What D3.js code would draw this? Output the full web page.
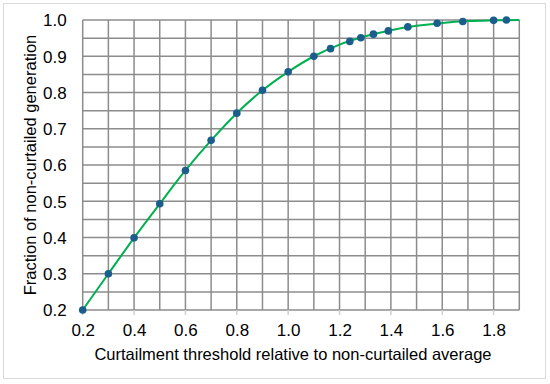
<!DOCTYPE html>
<html>
<head>
<meta charset="utf-8">
<script src="https://cdn.jsdelivr.net/npm/d3@7"></script>
<style>
  body { margin: 0; background: #fff; }
  svg { display: block; font-family: "Liberation Sans", Arial, sans-serif; }
</style>
</head>
<body>
<svg id="chart" width="550" height="384"></svg>
<script>
// threshold (x) vs fraction of non-curtailed generation (y)
var thresholds = [0.2, 0.3, 0.4, 0.5, 0.6, 0.7, 0.8, 0.9, 1.0, 1.1, 1.165, 1.24, 1.283, 1.332, 1.39, 1.466, 1.58, 1.68, 1.8, 1.85];
var fractions  = [0.200, 0.300, 0.399, 0.493, 0.585, 0.668, 0.743, 0.806, 0.857, 0.900, 0.921, 0.941, 0.951, 0.961, 0.970, 0.981, 0.991, 0.996, 0.999, 1.000];
// fitted line runs on to the right edge
var lineX = [0.2, 0.3, 0.4, 0.5, 0.6, 0.7, 0.8, 0.9, 1.0, 1.1, 1.2, 1.3, 1.4, 1.5, 1.6, 1.7, 1.8, 1.9];
var lineY = [0.200, 0.300, 0.399, 0.493, 0.585, 0.668, 0.743, 0.806, 0.857, 0.900, 0.932, 0.955, 0.972, 0.984, 0.992, 0.997, 0.999, 1.000];
var xTickLabels = [0.2, 0.4, 0.6, 0.8, 1.0, 1.2, 1.4, 1.6, 1.8];
var yTickLabels = [0.2, 0.3, 0.4, 0.5, 0.6, 0.7, 0.8, 0.9, 1.0];

(function(){
var svg = d3.select('#chart');
var mLeft = 82.7, mRight = 519.3, mTop = 20, mBottom = 310;
var fontSize = '17px';

var x = d3.scaleLinear().domain([0.2, 1.9]).range([mLeft, mRight]);
var y = d3.scaleLinear().domain([0.2, 1.0]).range([mBottom, mTop]);

// outer frame
svg.append('rect')
   .attr('x', 3.5).attr('y', 3.5)
   .attr('width', 542).attr('height', 375)
   .attr('fill', '#fff')
   .attr('stroke', '#d9d9d9')
   .attr('stroke-width', 1);

var grid = svg.append('g');
var gridColor = '#8c8c8c';

// vertical lines every 0.1
grid.selectAll('line.v')
    .data(d3.range(2, 20).map(function(d){ return d / 10; }))
    .enter().append('line')
    .attr('class', 'v')
    .attr('x1', function(d){ return x(d); })
    .attr('x2', function(d){ return x(d); })
    .attr('y1', mTop).attr('y2', mBottom)
    .attr('stroke', gridColor).attr('stroke-width', 1.5);

// horizontal lines every 0.05
grid.selectAll('line.h')
    .data(d3.range(4, 21).map(function(d){ return d / 20; }))
    .enter().append('line')
    .attr('class', 'h')
    .attr('y1', function(d){ return y(d); })
    .attr('y2', function(d){ return y(d); })
    .attr('x1', mLeft).attr('x2', mRight)
    .attr('stroke', gridColor).attr('stroke-width', 1.5);

// little tick marks under x axis
grid.selectAll('line.t')
    .data(xTickLabels)
    .enter().append('line')
    .attr('class', 't')
    .attr('x1', function(d){ return x(d); })
    .attr('x2', function(d){ return x(d); })
    .attr('y1', mBottom).attr('y2', mBottom + 5)
    .attr('stroke', '#d0d0d0').attr('stroke-width', 1.5);

// axes (labels only)
var xAxis = svg.append('g')
    .attr('transform', 'translate(0,' + mBottom + ')')
    .call(d3.axisBottom(x).tickValues(xTickLabels).tickFormat(d3.format('.1f')).tickSize(0).tickPadding(14));
var yAxis = svg.append('g')
    .attr('transform', 'translate(' + mLeft + ',0)')
    .call(d3.axisLeft(y).tickValues(yTickLabels).tickFormat(d3.format('.1f')).tickSize(0).tickPadding(16));
[xAxis, yAxis].forEach(function(a){
  a.select('.domain').remove();
  a.selectAll('text')
   .attr('fill', '#000')
   .style('font-size', fontSize)
   .style('font-family', '"Liberation Sans", Arial, sans-serif');
});
yAxis.selectAll('text').attr('dy', '0.35em');

// fitted curve
var line = d3.line()
    .x(function(d){ return x(d[0]); })
    .y(function(d){ return y(d[1]); })
    .curve(d3.curveCatmullRom);
svg.append('path')
   .datum(lineX.map(function(v, i){ return [v, lineY[i]]; }))
   .attr('d', line)
   .attr('fill', 'none')
   .attr('stroke', '#00b050')
   .attr('stroke-width', 2);

// markers
svg.selectAll('circle')
   .data(thresholds.map(function(v, i){ return [v, fractions[i]]; }))
   .enter().append('circle')
   .attr('cx', function(d){ return x(d[0]); })
   .attr('cy', function(d){ return y(d[1]); })
   .attr('r', 3.8)
   .attr('fill', '#1b5e8c');

// axis titles
svg.append('text')
   .attr('x', 293)
   .attr('y', 360)
   .attr('text-anchor', 'middle')
   .style('font-size', '16.5px')
   .text('Curtailment threshold relative to non-curtailed average');

svg.append('text')
   .attr('transform', 'translate(36,165) rotate(-90)')
   .attr('text-anchor', 'middle')
   .style('font-size', '16.5px')
   .text('Fraction of non-curtailed generation');
})();
</script>
</body>
</html>
